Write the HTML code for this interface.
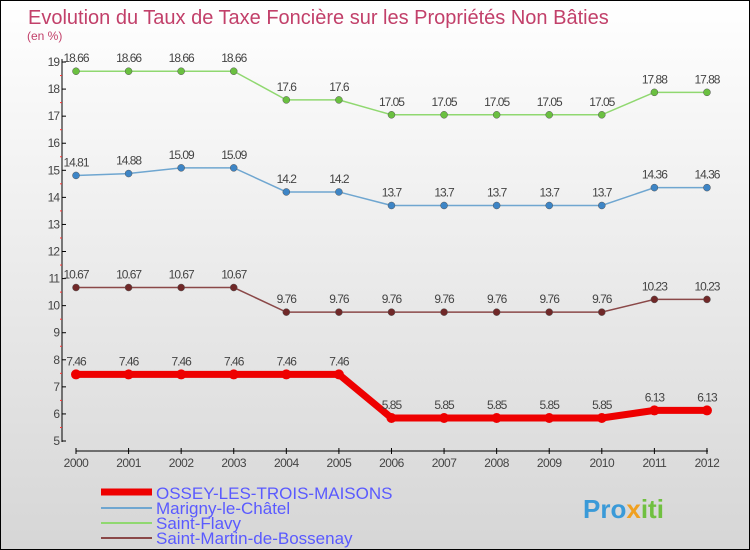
<!DOCTYPE html>
<html><head><meta charset="utf-8"><style>
body{margin:0}
#c{width:748px;height:548px;border:1px solid #000;background:linear-gradient(#fff,#d6d6d6);position:relative;font-family:"Liberation Sans",sans-serif;overflow:hidden}
</style></head><body>
<div id="c">
<svg id="s" width="748" height="548">
<text x="27" y="23" font-size="20" fill="#c2406a">Evolution du Taux de Taxe Foncière sur les Propriétés Non Bâties</text>
<text x="26" y="39" font-size="12" fill="#c2406a">(en %)</text>
<g id="ax"></g><g id="ser"></g>
<g>
<line x1="100" y1="491" x2="151" y2="491" stroke="#ee0000" stroke-width="7"/>
<text x="155" y="498" font-size="17" fill="#5a5aff">OSSEY-LES-TROIS-MAISONS</text>
<line x1="100" y1="507" x2="151" y2="507" stroke="#6fa6d0" stroke-width="2"/>
<text x="155" y="513" font-size="17" fill="#5a5aff">Marigny-le-Châtel</text>
<line x1="100" y1="522" x2="151" y2="522" stroke="#90d870" stroke-width="2"/>
<text x="155" y="528" font-size="17" fill="#5a5aff">Saint-Flavy</text>
<line x1="100" y1="537" x2="151" y2="537" stroke="#8a4848" stroke-width="2"/>
<text x="155" y="543" font-size="17" fill="#5a5aff">Saint-Martin-de-Bossenay</text>
</g>
<text x="582" y="517" font-size="26" font-weight="bold" fill="#3a9ad8">Pro<tspan fill="#f0a020">x</tspan><tspan fill="#70c040">iti</tspan></text>
</svg></div>
<script>
const years=[2000,2001,2002,2003,2004,2005,2006,2007,2008,2009,2010,2011,2012];
const ossey=[7.46,7.46,7.46,7.46,7.46,7.46,5.85,5.85,5.85,5.85,5.85,6.13,6.13];
const marigny=[14.81,14.88,15.09,15.09,14.2,14.2,13.7,13.7,13.7,13.7,13.7,14.36,14.36];
const flavy=[18.66,18.66,18.66,18.66,17.6,17.6,17.05,17.05,17.05,17.05,17.05,17.88,17.88];
const martin=[10.67,10.67,10.67,10.67,9.76,9.76,9.76,9.76,9.76,9.76,9.76,10.23,10.23];
const yTicks=[5,6,7,8,9,10,11,12,13,14,15,16,17,18,19];
const NS="http://www.w3.org/2000/svg";
const X=i=>75+i*52.58, Y=v=>440-(v-5)*27.07;
function mk(t,a,p){const e=document.createElementNS(NS,t);for(const k in a)e.setAttribute(k,a[k]);p.appendChild(e);return e;}
const ax=document.getElementById('ax');
let l=mk('line',{x1:61,y1:58,x2:61,y2:441,stroke:'#000'},ax);

l=mk('line',{x1:75,y1:450,x2:707,y2:450,stroke:'#000'},ax);

yTicks.forEach(v=>{const y=Y(v);mk('line',{x1:61,y1:y,x2:65,y2:y,stroke:'#000'},ax);
 if(v<19)mk('line',{x1:59,y1:Y(v+0.5),x2:61,y2:Y(v+0.5),stroke:'#f33'},ax);
 const t=mk('text',{x:58,y:y+4,'font-size':12,fill:'#444','text-anchor':'end','letter-spacing':'-1'},ax);t.textContent=v;
 });
years.forEach((yr,i)=>{const x=X(i);mk('line',{x1:x,y1:447,x2:x,y2:453,stroke:'#000'},ax);
 const t=mk('text',{x:x,y:466,'font-size':12,fill:'#444','text-anchor':'middle','letter-spacing':'-0.5'},ax);t.textContent=yr;
 });
const ser=document.getElementById('ser');
[[flavy,'#90d870','#6ac040',1.5,'saint-flavy'],[marigny,'#6fa6d0','#3d85c6',1.5,'marigny'],[martin,'#8a4848','#702828',1.5,'saint-martin'],[ossey,'#ee0000','#ee0000',7,'ossey']].forEach(([d,c,dc,w,n])=>{
 const g=mk('g',{},ser);
 const p=mk('polyline',{points:d.map((v,i)=>X(i)+','+Y(v)).join(' '),fill:'none',stroke:c,'stroke-width':w},g);
 
 d.forEach((v,i)=>{const pt=mk('circle',{cx:X(i),cy:Y(v),r:w>3?5:3.5,fill:dc,stroke:w>3?'none':'#555','stroke-width':0.5},g);
  
  const t=mk('text',{x:X(i),y:Y(v)-9,'font-size':12,fill:'#444','text-anchor':'middle','letter-spacing':'-1'},g);t.textContent=v;
  });
});
</script>
</body></html>
